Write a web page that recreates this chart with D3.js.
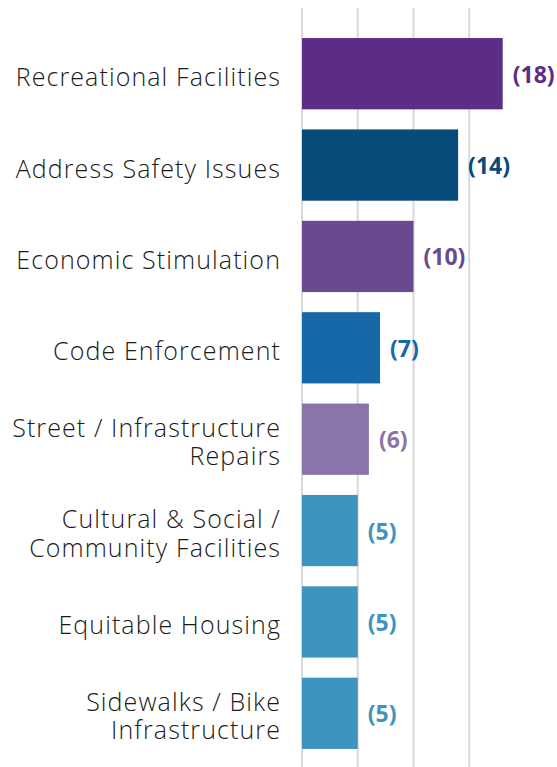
<!DOCTYPE html>
<html>
<head>
<meta charset="utf-8">
<script src="https://cdn.jsdelivr.net/npm/d3@7"></script>
<style>
  body { margin: 0; background: #fff; }
  svg { display: block; }
</style>
</head>
<body>
<div id="area"></div>
<script>
let width = 557
let height = 767

// data
let categories = [
  ['Recreational Facilities'],
  ['Address Safety Issues'],
  ['Economic Stimulation'],
  ['Code Enforcement'],
  ['Street / Infrastructure', 'Repairs'],
  ['Cultural & Social /', 'Community Facilities'],
  ['Equitable Housing'],
  ['Sidewalks / Bike', 'Infrastructure']
]
let values = [18, 14, 10, 7, 6, 5, 5, 5]
let colors = ['#5b2d87', '#074b7b', '#6a4a8f', '#1768a8', '#8a74a9', '#3d95bf', '#3d95bf', '#3d95bf']
let ticks = [0, 5, 10, 15]

let label_font = '"Open Sans", Lato, sans-serif'

let svg = d3.select('#area').append('svg')
  .attr('width', width)
  .attr('height', height)

let x = d3.scaleLinear()
  .domain([0, 20])
  .range([302, 525])

let y = d3.scaleBand()
  .domain(d3.range(values.length))
  .range([28, 759])
  .paddingInner(0.22)
  .paddingOuter(0.11)

// gridlines
svg.append('g')
  .selectAll('line')
  .data(ticks)
  .join('line')
  .attr('x1', d => x(d))
  .attr('x2', d => x(d))
  .attr('y1', 8)
  .attr('y2', height)
  .attr('stroke', '#d9d9d9')
  .attr('stroke-width', 2)

// bars
svg.append('g')
  .selectAll('rect')
  .data(values)
  .join('rect')
  .attr('x', x(0))
  .attr('y', (d, i) => y(i))
  .attr('width', d => x(d) - x(0))
  .attr('height', y.bandwidth())
  .attr('fill', (d, i) => colors[i])

// value labels
svg.append('g')
  .selectAll('text')
  .data(values)
  .join('text')
  .attr('x', d => x(d) + 10)
  .attr('y', (d, i) => y(i) + y.bandwidth() / 2 + 9)
  .attr('fill', (d, i) => colors[i])
  .attr('font-family', label_font)
  .attr('font-weight', 700)
  .attr('font-size', 23)
  .text(d => '(' + d + ')')

// category labels, one text per line
let line_h = 28.5
let label_rows = []
categories.forEach((lines, i) => {
  let cy = y(i) + y.bandwidth() / 2
  let first = lines.length == 1 ? cy + 12.5 : cy - 2.5
  lines.forEach((t, j) => label_rows.push({ text: t, y: first + j * line_h }))
})

svg.append('g')
  .selectAll('text')
  .data(label_rows)
  .join('text')
  .attr('x', 281)
  .attr('y', d => d.y)
  .attr('text-anchor', 'end')
  .attr('fill', '#1a1a1a')
  .attr('font-family', label_font)
  .attr('font-weight', 300)
  .attr('font-size', 25)
  .attr('letter-spacing', 1.1)
  .text(d => d.text)
</script>
</body>
</html>
